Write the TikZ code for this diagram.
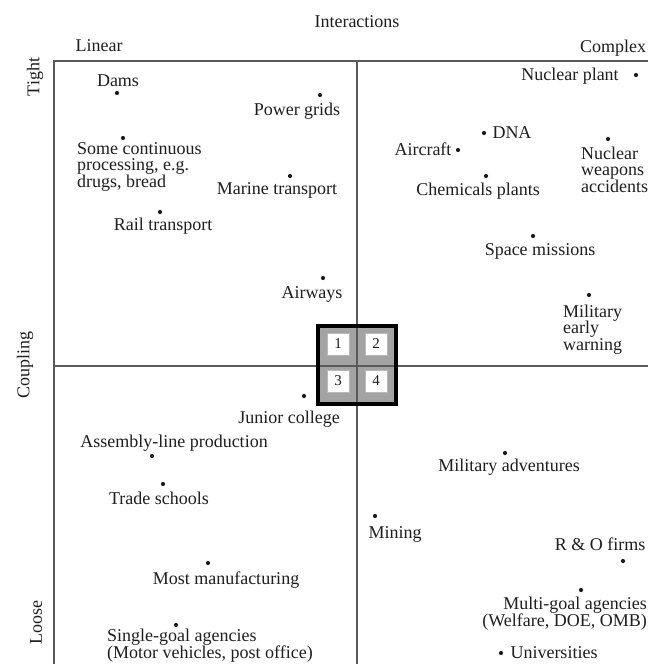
\documentclass[tikz,border=0pt]{standalone}
\usepackage{fontspec}
\setmainfont{Liberation Serif}
\definecolor{ink}{HTML}{1E1E1E}
\definecolor{axisgray}{HTML}{5A5A5A}
\definecolor{corefill}{HTML}{A3A3A3}
\newcommand{\lblfont}{\fontsize{18}{16.5}\selectfont\lineskiplimit=-6pt}

\begin{document}
\begin{tikzpicture}[
  x=1pt, y=-1pt,
  lbl/.style={inner sep=0pt, text=ink, font=\lblfont, anchor=base},
  lblL/.style={lbl, align=left, anchor=base west},
  lblR/.style={lbl, align=right, anchor=base east},
  side/.style={inner sep=0pt, text=ink, font=\lblfont, rotate=90},
  dot/.style={circle, fill=ink, inner sep=0pt, minimum size=4.2pt},
  axis/.style={draw=axisgray, line width=1.3pt},
  numbox/.style={fill=white, draw=gray!55, line width=0.6pt, minimum size=22pt,
                 inner sep=0pt, font=\fontsize{15}{15}\selectfont, text=ink}
]
\useasboundingbox (0,0) rectangle (648,664);

\coordinate (nw) at (54,61);  \coordinate (ne) at (648,61);
\coordinate (sw) at (54,664);
\coordinate (top) at (357,61); \coordinate (bot) at (357,664);
\coordinate (west) at (54,366); \coordinate (east) at (648,366);

\node[fill=corefill, minimum size=78pt, inner sep=0pt] (core) at (357,365) {};
\draw[axis] (ne) -- (nw) -- (sw);
\draw[axis] (top) -- (bot);
\draw[axis] (west) -- (east);
\node[numbox] (q1) at (338,344) {1};
\node[numbox] (q2) at (376,344) {2};
\node[numbox] (q3) at (338,381) {3};
\node[numbox] (q4) at (376,381) {4};
\draw[line width=4pt, draw=black] (core.north west) rectangle (core.south east);

% headings
\node[lbl] (inter) at (357,27) {Interactions};
\node[lbl] (linear) at (99,51) {Linear};
\node[lbl] (complex) at (613,52) {Complex};
\node[side] (tight) at (35,77) {Tight};
\node[side] (coupling) at (25,365) {Coupling};
\node[side] (loose) at (36,622) {Loose};

% linear, tight
\node[lbl] (dams) at (118,86) {Dams};               \node[dot] (d-dams) at (117,93) {};
\node[lbl] (grids) at (297,115) {Power grids};      \node[dot] (d-grids) at (320,95) {};
\node[lblL] (contin) at (77,187) {Some continuous\\processing, e.g.\\drugs, bread};
\node[dot] (d-contin) at (123,138) {};
\node[lbl] (marine) at (277,194) {Marine transport}; \node[dot] (d-marine) at (290,176) {};
\node[lbl] (rail) at (163,230) {Rail transport};    \node[dot] (d-rail) at (160,212) {};
\node[lbl] (airways) at (312,298) {Airways};        \node[dot] (d-airways) at (323,278) {};

% complex, tight
\node[lbl] (nplant) at (570,80) {Nuclear plant};    \node[dot] (d-nplant) at (636,75) {};
\node[lbl] (dna) at (512,138) {DNA};                \node[dot] (d-dna) at (484,133) {};
\node[lbl] (aircraft) at (423,155) {Aircraft};      \node[dot] (d-aircraft) at (458,150) {};
\node[lbl] (chem) at (478,195) {Chemicals plants};  \node[dot] (d-chem) at (486,176) {};
\node[lblL] (weapons) at (581,192) {Nuclear\\weapons\\accidents};
\node[dot] (d-weapons) at (608,139) {};
\node[lbl] (space) at (540,255) {Space missions};   \node[dot] (d-space) at (533,236) {};
\node[lblL] (early) at (563,350) {Military\\early\\warning};
\node[dot] (d-early) at (589,295) {};

% linear, loose
\node[lbl] (junior) at (289,423) {Junior college};  \node[dot] (d-junior) at (304,396) {};
\node[lbl] (assembly) at (174,447) {Assembly-line production};
\node[dot] (d-assembly) at (152,456) {};
\node[lbl] (trade) at (159,504) {Trade schools};    \node[dot] (d-trade) at (163,484) {};
\node[lbl] (mostman) at (226,584) {Most manufacturing};
\node[dot] (d-mostman) at (208,563) {};
\node[lblL] (single) at (107,658) {Single-goal agencies\\(Motor vehicles, post office)};
\node[dot] (d-single) at (176,625) {};

% complex, loose
\node[lbl] (advent) at (509,471) {Military adventures}; \node[dot] (d-advent) at (505,453) {};
\node[lbl] (mining) at (395,538) {Mining};          \node[dot] (d-mining) at (375,516) {};
\node[lbl] (rando) at (600,550) {R \& O firms};     \node[dot] (d-rando) at (623,561) {};
\node[lblR] (multi) at (647,626) {Multi-goal agencies\\(Welfare, DOE, OMB)};
\node[dot] (d-multi) at (581,590) {};
\node[lbl] (univ) at (554,658) {Universities};      \node[dot] (d-univ) at (501,653) {};
\end{tikzpicture}
\end{document}
